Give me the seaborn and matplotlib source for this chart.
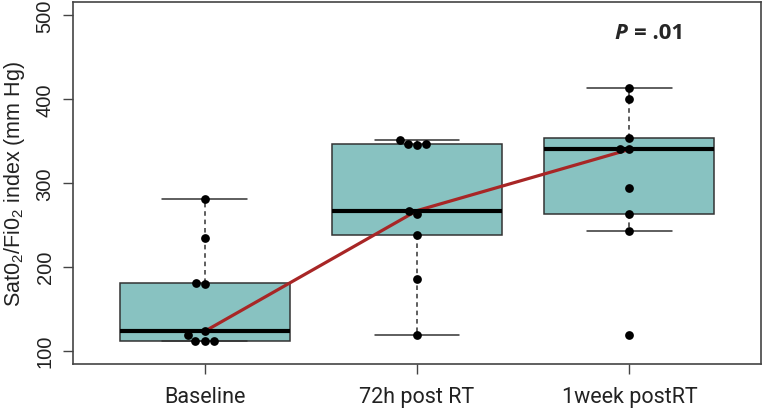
import matplotlib
matplotlib.use("Agg")
import matplotlib.pyplot as plt
import numpy as np
import pandas as pd
import seaborn as sns

# values (mm Hg)
groups = ["Baseline", "72h post RT", "1week postRT"]
baseline = [281, 234, 181, 180, 123, 118, 112, 112, 112]
h72 = [351, 347, 346, 345, 267, 263, 238, 186, 119]
week1 = [413, 400, 354, 340, 340, 294, 263, 243, 119]
yticks = [100, 200, 300, 400, 500]
p_label = ".01"

df = pd.DataFrame({
    "group": [groups[0]] * len(baseline) + [groups[1]] * len(h72) + [groups[2]] * len(week1),
    "value": baseline + h72 + week1,
})

sns.set_theme(style="ticks")
plt.rcParams["font.family"] = ["Liberation Sans", "DejaVu Sans"]
plt.rcParams["mathtext.default"] = "regular"

fig = plt.figure(figsize=(7.62, 4.1), dpi=100)
ax = fig.add_axes([0.0958, 0.1098, 0.9029, 0.8829])

BOX = "#88C2C1"
EDGE = "#333333"

sns.boxplot(data=df, x="group", y="value", order=groups, color=BOX, saturation=1,
            width=0.8, showfliers=False, linecolor=EDGE, linewidth=1.1,
            medianprops={"color": "black", "linewidth": 3},
            whiskerprops={"linestyle": (0, (3, 2.5))},
            capprops={"linestyle": "-"}, ax=ax)

# median trend
sns.pointplot(data=df, x="group", y="value", order=groups, estimator="median",
              errorbar=None, color="#A82626", markers="", linewidth=2.3, ax=ax)

sns.swarmplot(data=df, x="group", y="value", order=groups, color="black",
              size=6.3, ax=ax, zorder=5)

ax.set_xlim(-0.62, 2.62)
ax.set_ylim(84, 516)
ax.set_yticks(yticks)
ax.set_xlabel("")
ax.set_ylabel("Sat0$_2$/Fi0$_2$ index (mm Hg)", fontsize=15.5, labelpad=6,
              color="#222222")
plt.setp(ax.get_yticklabels(), rotation=90, va="center", fontsize=14.5,
         color="#222222")
for lab in ax.get_xticklabels():
    lab.set_family(["Roboto", "DejaVu Sans"])
    lab.set_fontsize(15.5)
    lab.set_color("#222222")
ax.tick_params(axis="both", length=7.2, width=1, color="#444444", pad=6)
ax.tick_params(axis="x", pad=9)

for s in ax.spines.values():
    s.set_visible(True)
    s.set_color("#444444")
    s.set_linewidth(1.2)

ax.text(1.988, 480, "P", fontsize=16, fontweight="bold", fontstyle="italic",
        ha="right", va="center", family=["Open Sans", "DejaVu Sans"])
ax.text(2.022, 480, "= " + p_label, fontsize=16, fontweight="bold",
        ha="left", va="center", family=["Open Sans", "DejaVu Sans"])

fig.savefig("out.png", dpi=100)
